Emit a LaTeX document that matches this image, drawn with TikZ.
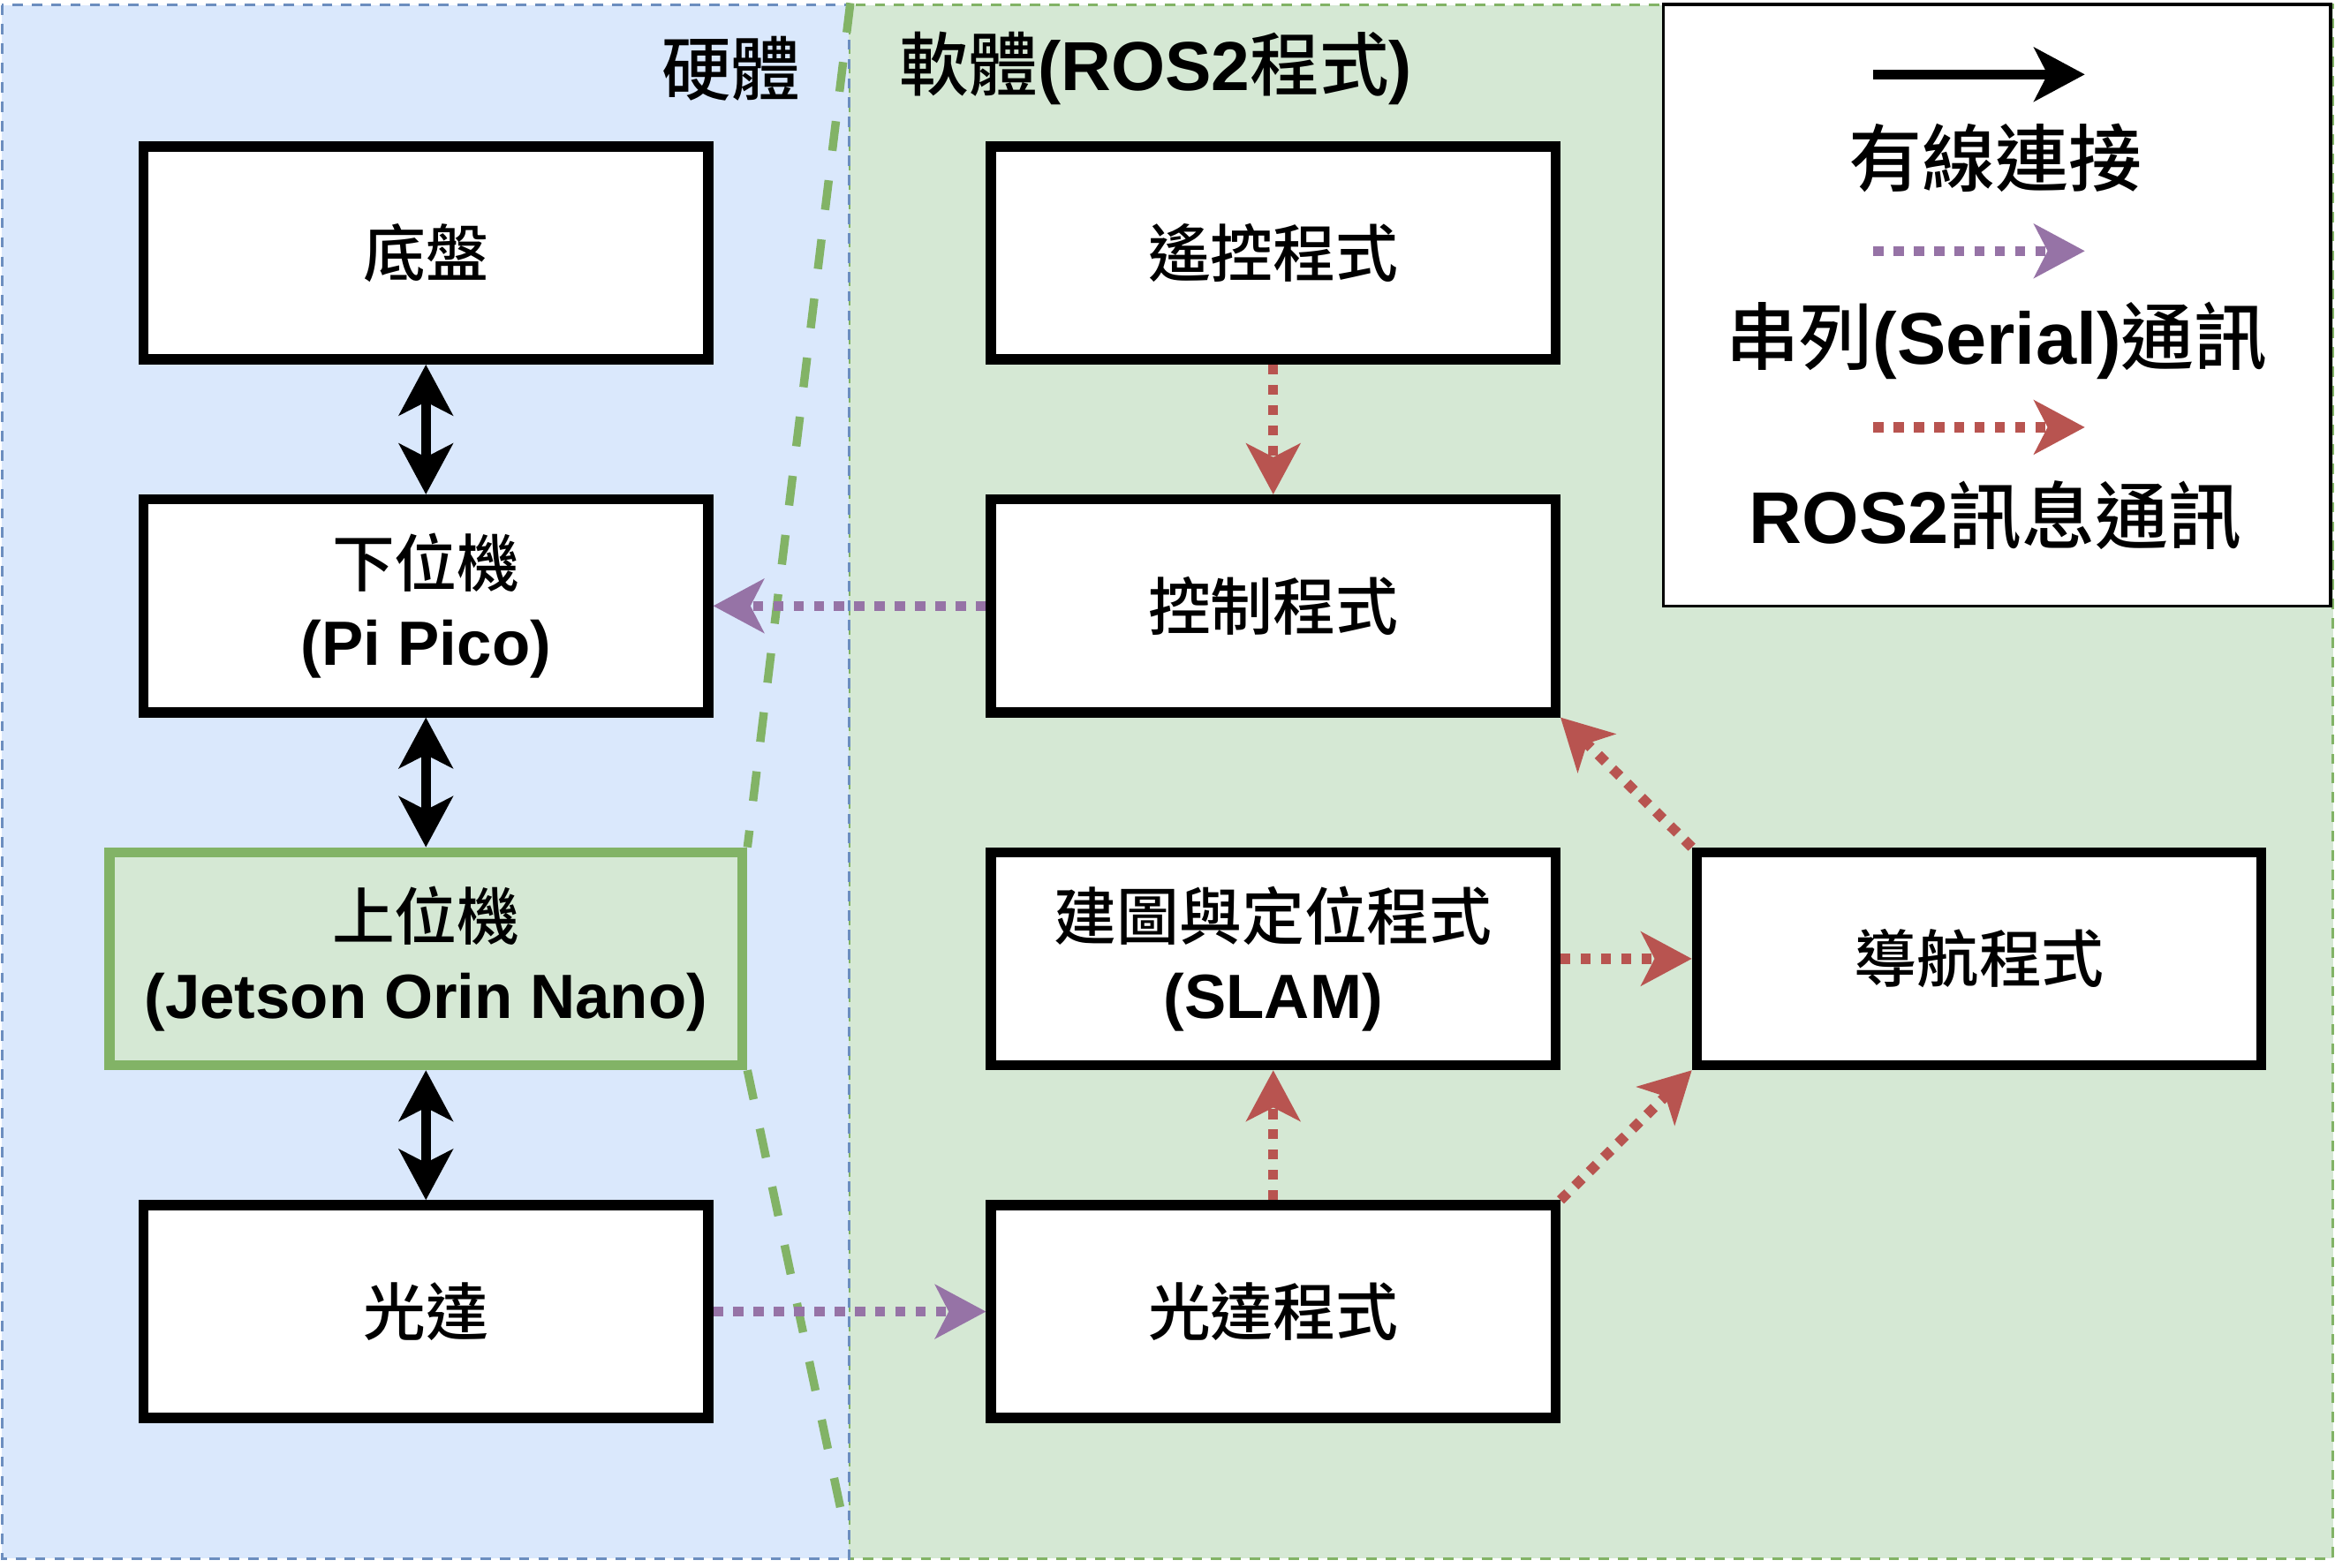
\documentclass[tikz,border=0pt]{standalone}
\usepackage{fontspec}
\setmainfont{Liberation Sans}
\newfontfamily\cjk{Noto Sans CJK TC Medium}[BoldFont=*]
\usetikzlibrary{positioning}
\usetikzlibrary{arrows.meta}

\definecolor{hwfill}{HTML}{DAE8FC}
\definecolor{hwline}{HTML}{6C8EBF}
\definecolor{swfill}{HTML}{D5E8D4}
\definecolor{swline}{HTML}{82B366}
\definecolor{serialc}{HTML}{9673A6}
\definecolor{rosc}{HTML}{B85450}

\tikzset{
  bigtip/.tip={Stealth[length=17pt,width=18pt,inset=4.5pt]},
  block/.style={draw,line width=3.4pt,fill=white,minimum width=189.5pt,
    minimum height=71.5pt,align=center,
    font=\fontsize{21}{26.5}\selectfont\bfseries},
  wired/.style={line width=3.4pt,-bigtip},
  serial/.style={serialc,line width=3.4pt,dash pattern=on 3.4pt off 3.4pt,-bigtip},
  rosmsg/.style={rosc,line width=3.4pt,dash pattern=on 3.4pt off 3.4pt,-bigtip},
  title/.style={font=\fontsize{23.3}{28}\selectfont\bfseries},
  legtext/.style={font=\fontsize{24.6}{29}\selectfont\bfseries},
}

\begin{document}
\begin{tikzpicture}[x=0.5pt,y=-0.5pt,node distance=118.5pt and 284.5pt,on grid]
  \useasboundingbox (0,0) rectangle (1568,1053);
  % hardware / software areas
  \draw[swline,fill=swfill,line width=0.9pt,dash pattern=on 3.5pt off 3pt] (570,3.3) rectangle (1566.5,1047);
  \draw[hwline,fill=hwfill,line width=0.9pt,dash pattern=on 3.5pt off 3pt] (1.2,3.3) rectangle (570,1047);

  \node[title] (hwtitle) at (491,46) {{\cjk 硬體}};
  \node[title] (swtitle) at (776,46) {{\cjk 軟體}(ROS2{\cjk 程式})};

  % hardware
  \node[block] (chassis) at (286,170) {{\cjk 底盤}};
  \node[block] (mcu) [below=of chassis] {{\cjk 下位機}\\(Pi Pico)};
  \node[block,fill=swfill,draw=swline,minimum width=212.5pt] (host) [below=of mcu] {{\cjk 上位機}\\(Jetson Orin Nano)};
  \node[block] (lidar) [below=of host] {{\cjk 光達}};

  % software
  \node[block] (remote) [right=of chassis] {{\cjk 遙控程式}};
  \node[block] (ctrl) [right=of mcu] {{\cjk 控制程式}};
  \node[block] (slam) [below=of ctrl] {{\cjk 建圖與定位程式}\\(SLAM)};
  \node[block] (lidarprog) [below=of slam] {{\cjk 光達程式}};
  \node[block] (nav) [right=237pt of slam] {{\cjk 導航程式}};

  % border between the two areas
  \coordinate (cuttop) at (571,2);
  \coordinate (cutbot) at (568,1030);
  \draw[swline,line width=2.8pt,dash pattern=on 10pt off 10pt]
    (cuttop) -- (host.north east) (host.south east) -- (cutbot);

  \draw[wired,bigtip-bigtip] (chassis) -- (mcu);
  \draw[wired,bigtip-bigtip] (mcu) -- (host);
  \draw[wired,bigtip-bigtip] (host) -- (lidar);

  \draw[serial] (ctrl) -- (mcu);
  \draw[serial] (lidar) -- (lidarprog);
  \draw[rosmsg] (remote) -- (ctrl);
  \draw[rosmsg] (lidarprog) -- (slam);
  \draw[rosmsg] (slam) -- (nav);
  \draw[rosmsg] (lidarprog.north east) -- (nav.south west);
  \draw[rosmsg] (nav.north west) -- (ctrl.south east);

  % legend
  \node[draw,fill=white,line width=1pt,minimum width=224pt,minimum height=202pt] (legend) at (1341,205) {};
  \coordinate (wirea) at (1258,50);
  \coordinate (wireb) at (1400,50);
  \coordinate (seriala) at (1258,168.6);
  \coordinate (serialb) at (1400,168.6);
  \coordinate (rosa) at (1258,287);
  \coordinate (rosb) at (1400,287);
  \draw[wired,line width=3.2pt] (wirea) -- (wireb);
  \draw[serial] (seriala) -- (serialb);
  \draw[rosmsg] (rosa) -- (rosb);
  \node[legtext] (wiretext) at (1340,106) {{\cjk 有線連接}};
  \node[legtext] (serialtext) at (1341,229) {{\cjk 串列}(Serial){\cjk 通訊}};
  \node[legtext] (rostext) at (1340,346) {ROS2{\cjk 訊息通訊}};
\end{tikzpicture}
\end{document}
